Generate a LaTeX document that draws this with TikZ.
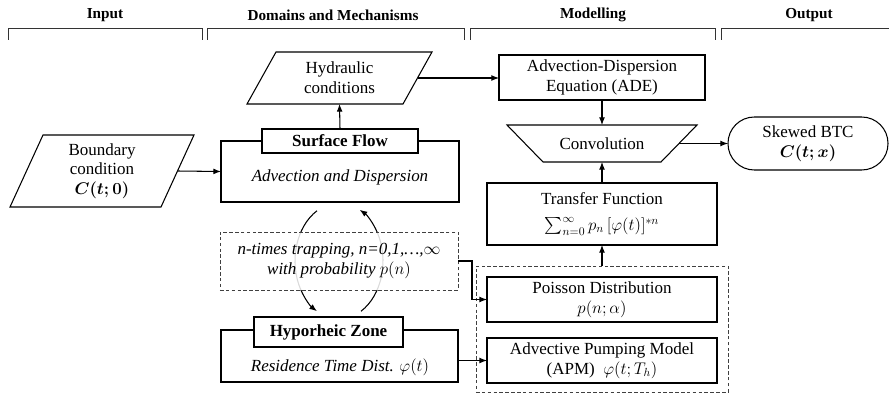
\documentclass[tikz,border=0pt]{standalone}
\usepackage{amsmath}
\usepackage{fontspec}
\setmainfont{Liberation Serif}
\usetikzlibrary{arrows.meta,calc}
\begin{document}
\begin{tikzpicture}[x=0.03cm,y=0.03cm,
  every node/.style={font=\fontsize{14.5}{16.8}\selectfont, inner sep=0pt, outer sep=0pt},
  box/.style={draw, line width=0.9pt, align=center, fill=white},
  plain/.style={align=center},
  shp/.style={line width=0.9pt},
  boldt/.style={font=\fontsize{14.5}{16.8}\selectfont\bfseries},
  dbox/.style={draw=black!75, line width=0.8pt, dash pattern=on 3pt off 2pt},
  arr/.style={-{Latex[length=6.5pt,width=5pt]}, line width=0.9pt},
  hdr/.style={font=\fontsize{13}{15}\selectfont\bfseries},
  brk/.style={line width=0.8pt, black!80}]
\useasboundingbox (0,0) rectangle (889,-396);

% headers
\node[hdr] (h1) at (105,-15) {Input};
\node[hdr] (h2) at (333,-15) {Domains and Mechanisms};
\node[hdr] (h3) at (593,-15) {Modelling};
\node[hdr] (h4) at (809,-15) {Output};
\draw[brk] (8,-40) -- (8,-28) -- (202,-28) -- (202,-40);
\draw[brk] (207,-40) -- (207,-28) -- (464,-28) -- (464,-40);
\draw[brk] (470,-40) -- (470,-28) -- (715,-28) -- (715,-40);
\draw[brk] (721,-40) -- (721,-28) -- (889,-28);

% boundary condition
\node[plain, minimum width=5.52cm, minimum height=2.16cm] (bc) at (102,-171) {Boundary\\condition\\$\boldsymbol{C(t;0)}$};
\draw[shp] (bc.south west) -- ([xshift=0.99cm]bc.north west) -- (bc.north east) -- ([xshift=-0.99cm]bc.south east) -- cycle;

% surface flow
\node[box, minimum width=7.14cm, minimum height=1.83cm] (sfo) at (340,-171.5) {};
\node[box, boldt, minimum width=4.68cm, minimum height=0.72cm] (sft) at (340,-141) {Surface Flow};
\node (sfa) at (340,-177) {\textit{Advection and Dispersion}};

% hydraulic conditions
\node[plain, minimum width=5.55cm, minimum height=1.56cm] (hc) at (339.5,-78) {Hydraulic\\conditions};
\draw[shp] (hc.south west) -- ([xshift=0.87cm]hc.north west) -- (hc.north east) -- ([xshift=-0.87cm]hc.south east) -- cycle;

% exchange arcs
\coordinate (cc) at (339,-261);
\draw[arr] ($(cc)+(120:44 and 58)$) arc[start angle=120, end angle=240, x radius=44, y radius=58];
\draw[arr] ($(cc)+(-60:44 and 58)$) arc[start angle=-60, end angle=62, x radius=44, y radius=58];

% trapping
\node[dbox, fill=white, fill opacity=0.85, text opacity=1, align=center, minimum width=7.14cm, minimum height=1.74cm] (tr) at (339,-261) {\textit{n-times trapping, n=0,1,\ldots,}$\infty$\\[1pt]\textit{with probability} $p(n)$};

% hyporheic zone
\node[box, minimum width=7.11cm, minimum height=1.56cm] (hzo) at (339.5,-356) {};
\node[box, boldt, minimum width=4.47cm, minimum height=0.9cm] (hzt) at (328.5,-332) {Hyporheic Zone};
\node (hza) at (340,-367) {\textit{Residence Time Dist.} $\varphi(t)$};

% modelling
\node[box, minimum width=6.18cm, minimum height=1.35cm] (ade) at (602,-77.5) {Advection-Dispersion\\Equation (ADE)};
\node[plain, minimum width=5.7cm, minimum height=1.11cm] (cv) at (602,-143.5) {Convolution};
\draw[shp] (cv.north west) -- (cv.north east) -- ([xshift=-1.08cm]cv.south east) -- ([xshift=1.08cm]cv.south west) -- cycle;
\node[box, rounded corners=0.79cm, minimum width=4.8cm, minimum height=1.59cm] (btc) at (808,-143.5) {Skewed BTC\\$\boldsymbol{C(t;x)}$};
\node[box, minimum width=6.9cm, minimum height=1.86cm] (tf) at (602,-214) {Transfer Function\\[5pt]$\sum_{n=0}^{\infty} p_n\,[\varphi(t)]^{*n}$};
\node[dbox, minimum width=7.56cm, minimum height=3.78cm] (rd) at (602,-329) {};
\node[box, minimum width=6.9cm, minimum height=1.35cm] (po) at (602,-299.5) {Poisson Distribution\\$p(n;\alpha)$};
\node[box, minimum width=6.9cm, minimum height=1.35cm] (apm) at (602,-360.5) {Advective Pumping Model\\(APM)~~$\varphi(t;T_h)$};

% connectors
\draw[arr] ([xshift=-0.495cm]bc.east) -- (sfo.west);
\draw[arr] (sft.north) -- (hc.south);
\draw[arr] ([xshift=-0.435cm]hc.east) -- (ade.west |- hc.east);
\draw[arr] (ade.south) -- (cv.north);
\draw[arr] ([xshift=-0.54cm]cv.east) -- (btc.west);
\draw[arr] (tf.north) -- (cv.south);
\draw[arr] (rd.north) -- (tf.south);
\draw[arr] (tr.east) -- ++(14,0) |- (po.west);
\draw[arr] (hzo.east |- apm.west) -- (apm.west);
\end{tikzpicture}
\end{document}
